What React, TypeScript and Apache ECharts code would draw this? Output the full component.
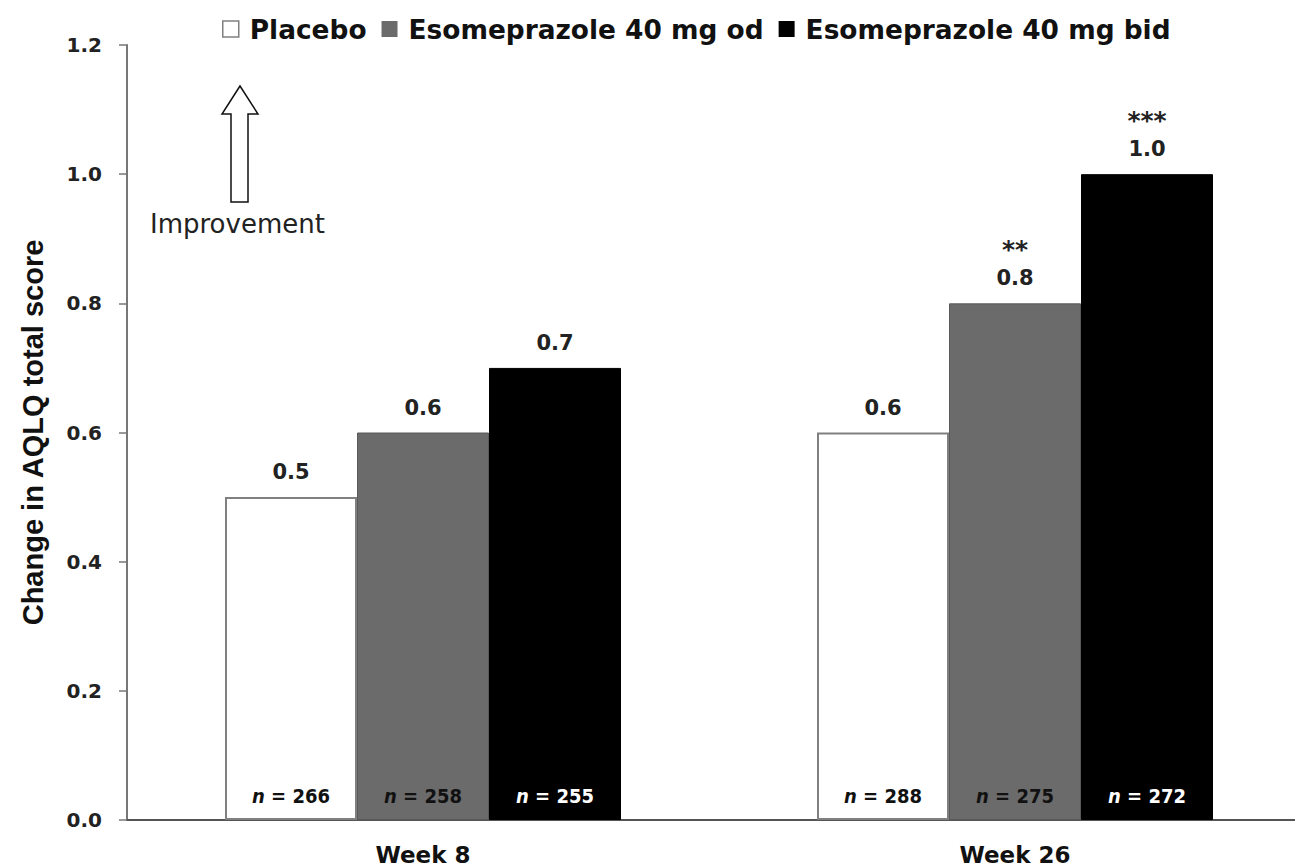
import React, { useEffect, useRef } from "react";
import * as echarts from "echarts";

const categories = ["Week 8", "Week 26"];
const seriesNames = ["Placebo", "Esomeprazole 40 mg od", "Esomeprazole 40 mg bid"];
const placebo = [0.5, 0.6];
const esoOd = [0.6, 0.8];
const esoBid = [0.7, 1.0];
const nPlacebo = [266, 288];
const nOd = [258, 275];
const nBid = [255, 272];
const sigPlacebo = ["", ""];
const sigOd = ["", "**"];
const sigBid = ["", "***"];
const yMin = 0;
const yMax = 1.2;
const yInterval = 0.2;
const axisTitle = "Change in AQLQ total score";
const annotation = "Improvement";

const colors = ["#ffffff", "#6b6b6b", "#000000"];
const borders = ["#808080", "#5a5a5a", "#000000"];
const nColors = ["#111111", "#111111", "#ffffff"];

const narrow = "'DejaVu Sans Condensed', 'Liberation Sans Narrow', sans-serif";
const wide = "'DejaVu Sans', Verdana, sans-serif";

export default function App() {
  const ref = useRef<HTMLDivElement>(null);
  useEffect(() => {
    if (!ref.current) return;
    const chart = echarts.init(ref.current, undefined, { renderer: "svg" });
    const values = [placebo, esoOd, esoBid];
    const ns = [nPlacebo, nOd, nBid];
    const sigs = [sigPlacebo, sigOd, sigBid];
    const series: any[] = [];
    values.forEach((vals, k) => {
      series.push({
        name: seriesNames[k],
        type: "bar",
        stack: "g" + k,
        data: vals,
        barWidth: 132,
        barGap: "0%",
        itemStyle: { color: colors[k], borderColor: borders[k], borderWidth: k === 0 ? 2 : 1 },
        label: {
          show: true,
          position: "insideBottom",
          distance: 14,
          formatter: (p: any) => `{i|n}{t| = ${ns[k][p.dataIndex]}}`,
          rich: {
            i: { fontFamily: narrow, fontWeight: "bold", fontStyle: "italic", fontSize: 20, color: nColors[k] },
            t: { fontFamily: narrow, fontWeight: "bold", fontSize: 20, color: nColors[k] },
          },
        },
      });
    });
    values.forEach((vals, k) => {
      series.push({
        name: seriesNames[k] + " label",
        type: "bar",
        stack: "g" + k,
        data: vals.map(() => 0),
        barWidth: 132,
        barGap: "0%",
        silent: true,
        itemStyle: { color: "transparent", borderWidth: 0 },
        label: {
          show: true,
          position: "top",
          distance: 12,
          formatter: (p: any) => {
            const s = sigs[k][p.dataIndex];
            const v = `{v|${vals[p.dataIndex].toFixed(1)}}`;
            return s ? `{s|${s}}\n${v}` : v;
          },
          rich: {
            v: { fontFamily: wide, fontWeight: "bold", fontSize: 21, color: "#222", lineHeight: 26 },
            s: { fontFamily: wide, fontWeight: "bold", fontSize: 25, color: "#222", lineHeight: 32 },
          },
        },
      });
    });

    chart.setOption({
      animation: false,
      backgroundColor: "#ffffff",
      grid: { left: 127, top: 45, bottom: 48, right: 0, containLabel: false },
      legend: {
        data: seriesNames.map((n, k) => ({
          name: n,
          itemStyle: { color: colors[k], borderColor: borders[k], borderWidth: k === 0 ? 1.5 : 0 },
        })),
        left: 222,
        top: 16,
        padding: 0,
        itemWidth: 16,
        itemHeight: 16,
        itemGap: 15,
        icon: "rect",
        selectedMode: false,
        textStyle: { fontFamily: wide, fontWeight: "bold", fontSize: 26.4, color: "#111", padding: [0, 0, 0, 6] },
      },
      xAxis: {
        type: "category",
        data: categories,
        axisLine: { lineStyle: { color: "#555", width: 2 } },
        axisTick: { show: false },
        axisLabel: { fontFamily: wide, fontWeight: "bold", fontSize: 23, color: "#111", margin: 23 },
      },
      yAxis: {
        type: "value",
        min: yMin,
        max: yMax,
        interval: yInterval,
        name: axisTitle,
        nameLocation: "middle",
        nameGap: 80,
        nameTextStyle: { fontFamily: "'Liberation Sans', Arial, sans-serif", fontWeight: "bold", fontSize: 29, color: "#111" },
        splitLine: { show: false },
        axisLine: { show: true, lineStyle: { color: "#777", width: 2 } },
        axisTick: { show: true, length: 8, lineStyle: { color: "#777", width: 1.5 } },
        axisLabel: {
          fontFamily: wide,
          fontWeight: "bold",
          fontSize: 20,
          color: "#222",
          margin: 25,
          formatter: (v: number) => v.toFixed(1),
        },
      },
      graphic: [
        {
          type: "polygon",
          shape: {
            points: [
              [240, 86],
              [258, 114],
              [248, 114],
              [248, 202],
              [231, 202],
              [231, 114],
              [222, 114],
            ],
          },
          style: { fill: "#fff", stroke: "#111", lineWidth: 1.5 },
        },
        {
          type: "text",
          left: 150,
          top: 211,
          style: { text: annotation, fontFamily: wide, fontSize: 26, fill: "#222" },
        },
      ],
      series,
    });
    return () => chart.dispose();
  }, []);
  return (
    <div style={{ position: "fixed", left: 0, top: 0, width: 1295, height: 868, overflow: "hidden", background: "#fff" }}>
      <div ref={ref} style={{ width: 1311, height: 868 }} />
    </div>
  );
}
